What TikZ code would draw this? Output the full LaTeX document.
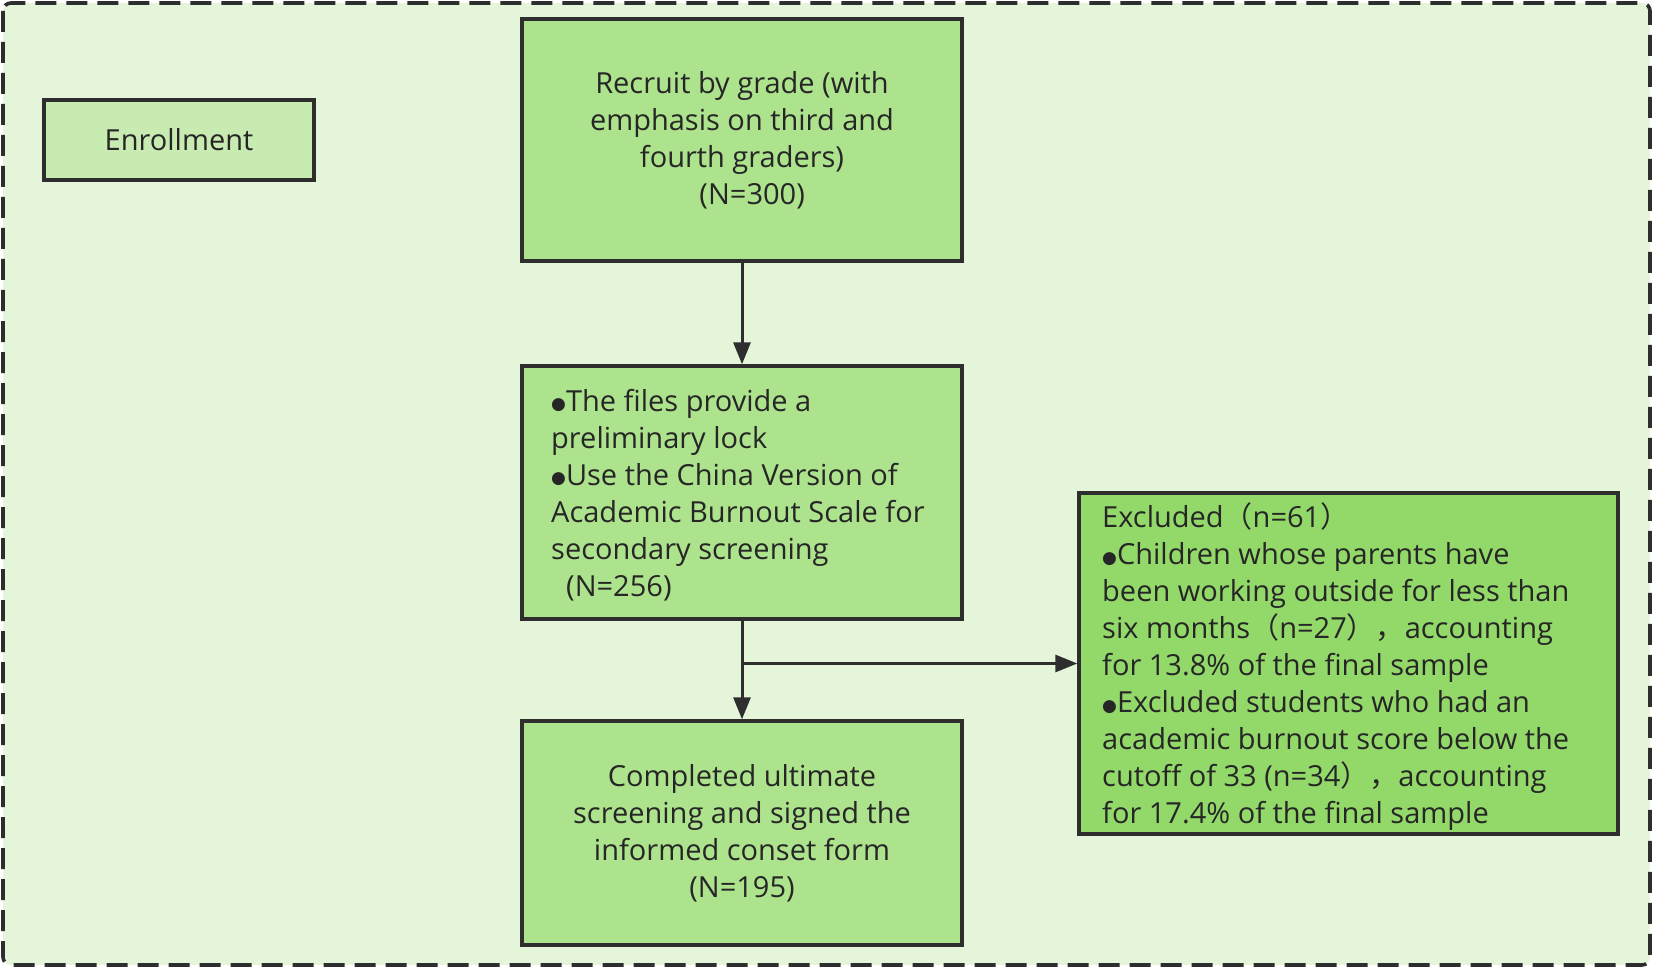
\documentclass[tikz,border=0pt]{standalone}
\usepackage{fontspec}
\setmainfont{Open Sans}
\newfontfamily\cjk{Noto Sans CJK SC}
\newfontfamily\symf{DejaVu Sans}
\usetikzlibrary{arrows.meta}
\definecolor{bgc}{HTML}{E4F5DA}
\definecolor{enrc}{HTML}{C8EBB2}
\definecolor{boxc}{HTML}{AEE38D}
\definecolor{excc}{HTML}{93D96A}
\definecolor{linec}{HTML}{2E2E2E}
\definecolor{txtc}{HTML}{262626}
\newcommand{\bul}{\raisebox{1.5pt}{\symf\fontsize{17}{17}\selectfont ●}}
\newcommand{\fw}[1]{{\cjk #1}}
\begin{document}
\begin{tikzpicture}[x=1pt,y=-1pt,
  boxst/.style={draw=linec, line width=3.4pt, inner sep=0pt, text=txtc,
    font=\fontsize{29}{37}\selectfont},
  txtst/.style={anchor=west, inner sep=0pt, text=txtc, align=left, font=\fontsize{29}{37}\selectfont},
  arr/.style={draw=linec, line width=3pt, -{Triangle[length=22pt,width=17pt]}}]
\useasboundingbox (0,0) rectangle (1654,968);
\draw[fill=bgc, draw=linec, line width=3.6pt, dash pattern=on 21pt off 10pt, rounded corners=8pt] (3,3) rectangle (1650,965);

\node[boxst, fill=enrc, minimum width=270pt, minimum height=80pt] (enr) at (179,140) {Enrollment};

\node[boxst, fill=boxc, minimum width=440pt, minimum height=242pt, align=center] (rec) at (742,140)
  {Recruit by grade (with\\emphasis on third and\\fourth graders)\\\hspace{0.7em}(N=300)};

\node[boxst, fill=boxc, minimum width=440pt, minimum height=253pt] (scr) at (742,492.5) {};
\node[txtst] (scrt) at (551,495)
  {\bul The files provide a\\preliminary lock\\\bul Use the China Version of\\Academic Burnout Scale for\\secondary screening\\\hspace{15pt}(N=256)};

\node[boxst, fill=boxc, minimum width=440pt, minimum height=224pt, align=center] (fin) at (742,833)
  {Completed ultimate\\screening and signed the\\informed conset form\\(N=195)};

\node[boxst, fill=excc, minimum width=539pt, minimum height=341pt] (exc) at (1348.5,663.5) {};
\node[txtst] (exct) at (1102,667)
  {Excluded\fw{（}n=61\fw{）}\\\bul Children whose parents have\\been working outside for less than\\six months\fw{（}n=27\fw{），}accounting\\for 13.8\% of the final sample\\\bul Excluded students who had an\\academic burnout score below the\\cutoff of 33 (n=34\fw{），}accounting\\for 17.4\% of the final sample};

\coordinate (j) at (scr.south |- exc.west);
\draw[arr] (rec.south) -- (scr.north);
\draw[arr] (scr.south) -- (fin.north);
\draw[arr] (j) -- (exc.west);
\end{tikzpicture}
\end{document}
